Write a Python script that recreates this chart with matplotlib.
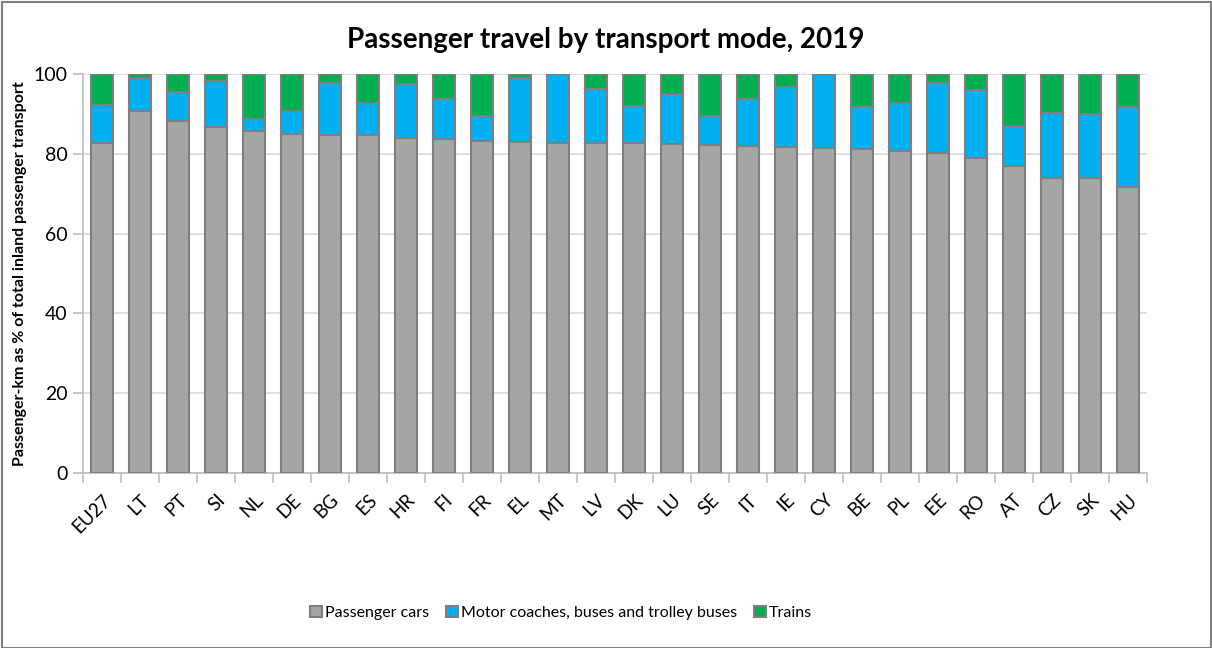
import matplotlib
matplotlib.use("Agg")
import matplotlib.pyplot as plt
import numpy as np
from matplotlib.patches import Rectangle

countries = ["EU27", "LT", "PT", "SI", "NL", "DE", "BG", "ES", "HR", "FI", "FR", "EL", "MT", "LV",
             "DK", "LU", "SE", "IT", "IE", "CY", "BE", "PL", "EE", "RO", "AT", "CZ", "SK", "HU"]
cars = [82.8, 90.7, 88.3, 86.8, 85.7, 84.9, 84.6, 84.6, 84.0, 83.7, 83.2, 83.0, 82.7, 82.7,
        82.7, 82.5, 82.2, 82.0, 81.7, 81.5, 81.3, 80.8, 80.2, 78.9, 76.9, 73.9, 73.9, 71.8]
buses = [9.4, 8.2, 7.1, 11.5, 3.0, 5.8, 13.2, 8.2, 13.5, 10.0, 6.3, 15.9, 17.3, 13.6,
         9.2, 12.6, 7.3, 11.7, 15.0, 18.5, 10.4, 12.0, 17.6, 17.1, 10.0, 16.3, 16.1, 19.9]
trains = [round(100 - c - b, 1) for c, b in zip(cars, buses)]

series_names = ["Passenger cars", "Motor coaches, buses and trolley buses", "Trains"]
colors = ["#A5A5A5", "#00B0F0", "#00B050"]
edge = "#7F7F7F"

plt.rcParams['font.family'] = ['Lato', 'DejaVu Sans']

fig = plt.figure(figsize=(12.12, 6.48), dpi=100)
ax = fig.add_axes([83/1212, 1 - 473/648, (1147 - 83)/1212, (473 - 74)/648])

x = np.arange(len(countries))
bottom = np.zeros(len(countries))
for vals, name, col in zip([cars, buses, trains], series_names, colors):
    ax.bar(x, vals, 0.6, bottom=bottom, color=col, edgecolor=edge, linewidth=1.5,
           label=name, zorder=3)
    bottom += np.array(vals)

ax.set_xlim(-0.5, len(countries) - 0.5)
ax.set_ylim(0, 100)
ax.set_yticks(range(0, 101, 20))
ax.yaxis.grid(True, color="#D9D9D9", linewidth=1.2, zorder=0)
for s in ["top", "right"]:
    ax.spines[s].set_visible(False)
ax.spines["left"].set_color("#BFBFBF")
ax.spines["bottom"].set_color("#BFBFBF")
ax.spines["left"].set_linewidth(1.2)
ax.spines["bottom"].set_linewidth(1.2)

ax.set_xticks(x)
ax.set_xticklabels(countries, rotation=45, ha="right", va="top", rotation_mode="anchor",
                   fontsize=13.5)
ax.tick_params(axis="x", which="major", length=0, pad=13)
ax.set_xticks(np.arange(-0.5, len(countries), 1), minor=True)
ax.tick_params(axis="x", which="minor", length=7, color="#BFBFBF", width=1.2)
ax.tick_params(axis="y", length=7, color="#BFBFBF", width=1.2, labelsize=14, pad=4)

ax.set_ylabel("Passenger-km as % of total inland passenger transport", fontsize=11.5,
              fontweight="bold", labelpad=5)

fig.text(0.5, 1 - 40/648, "Passenger travel by transport mode, 2019", ha="center",
         va="center", fontsize=20, fontweight="bold")

handles, labels = ax.get_legend_handles_labels()
fig.legend(handles, labels, loc="center", bbox_to_anchor=(561/1212, 1 - 613/648), ncol=3,
           frameon=False, fontsize=11.5, handlelength=0.75, handleheight=0.75,
           handletextpad=0.15, columnspacing=1.1)

fig.patches.append(Rectangle((2/1212, 0), 1209/1212, 1 - 2/648, transform=fig.transFigure,
                             fill=False, edgecolor="#7F7F7F", linewidth=1.5))

fig.savefig("out.png", dpi=100)
